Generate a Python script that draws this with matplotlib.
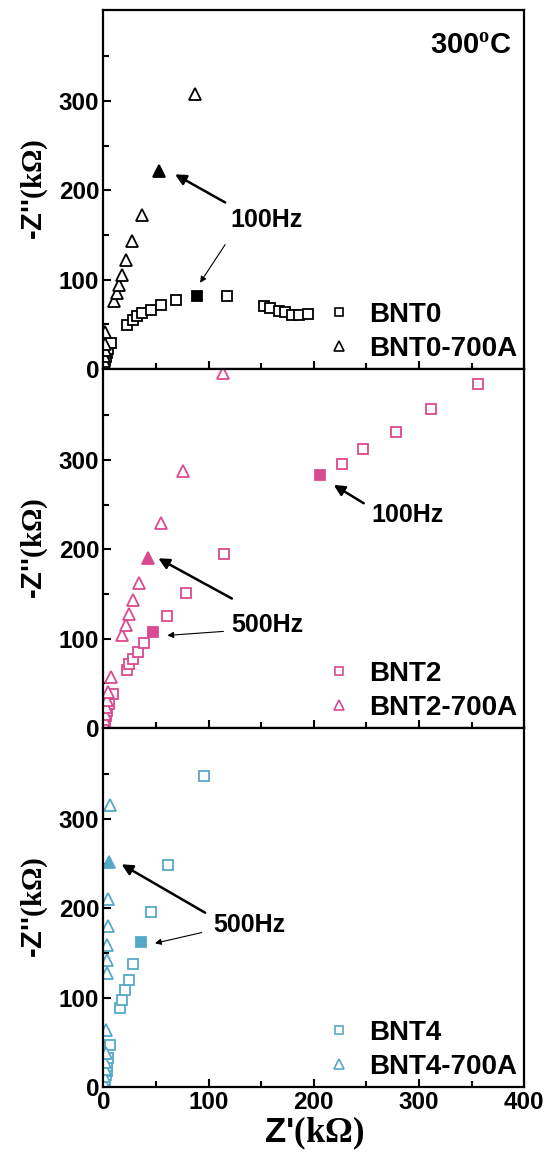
import numpy as np
import matplotlib.pyplot as plt
from matplotlib.lines import Line2D

plt.rcParams['font.family'] = ['Liberation Sans', 'DejaVu Sans']
plt.rcParams['font.weight'] = 'bold'
plt.rcParams['mathtext.fontset'] = 'custom'
plt.rcParams['mathtext.bf'] = 'Liberation Serif:bold'
plt.rcParams['mathtext.rm'] = 'Liberation Serif:bold'

# ---- data (Z' and -Z'' in kOhm) ----
# BNT0 / BNT0-700A
bnt0_x = [0.5, 1.0, 1.5, 2.0, 3.0, 4.0, 7.3, 22.7, 27.8, 32.2, 37.0, 45.0, 54.8, 69.0,
          117.3, 152.2, 158.6, 166.5, 172.9, 179.2, 185.5, 194.8]
bnt0_y = [2, 6, 10, 14, 18, 22, 28.9, 49.4, 55.0, 58.8, 62.6, 66.3, 71.9, 77.5,
          82.0, 70.0, 68.2, 65.5, 63.3, 60.7, 60.7, 61.8]
bnt0_hz = (88.8, 82.0)
bnt0a_x = [0.3, 0.6, 0.9, 1.2, 1.5, 1.4, 10.3, 12.6, 15.0, 17.3, 21.4, 26.9, 36.4, 87.1]
bnt0a_y = [4, 9, 15, 21, 28, 42.0, 75.6, 85.0, 94.4, 105.6, 121.7, 143.0, 173.0, 307.9]
bnt0a_hz = (53.1, 221.7)

# BNT2 / BNT2-700A
bnt2_x = [0.8, 1.5, 2.5, 3.5, 5.0, 9.3, 22.1, 24.6, 27.8, 32.6, 38.9, 60.2, 78.6, 115.0,
          227.0, 246.8, 278.0, 311.0, 355.9]
bnt2_y = [3, 8, 13, 19, 27, 38.2, 65.2, 71.9, 77.5, 85.0, 95.5, 125.5, 151.3, 194.4,
          296.0, 312.0, 331.5, 357.6, 385.0]
bnt2_hz1 = (47.4, 107.5)
bnt2_hz2 = (205.7, 283.5)
bnt2a_x = [0.5, 1.0, 1.5, 2.2, 3.0, 4.0, 6.9, 17.3, 21.1, 24.3, 27.8, 34.1, 54.8, 76.0, 114.1]
bnt2a_y = [4, 10, 16, 23, 31, 40, 57.0, 104.5, 115.0, 128.0, 143.0, 162.6, 229.2, 288.0, 397.8]
bnt2a_hz = (42.7, 189.9)

# BNT4 / BNT4-700A
bnt4_x = [0.8, 1.5, 2.3, 3.0, 3.8, 4.6, 6.2, 15.7, 17.9, 20.5, 24.3, 28.4, 45.2, 61.1, 96.0]
bnt4_y = [3, 8, 13, 18, 24, 32.2, 47.2, 88.4, 97.8, 108.2, 120.2, 137.9, 195.8, 248.3, 348.0]
bnt4_hz = (35.7, 162.1)
bnt4a_x = [0.5, 1.0, 1.4, 1.8, 2.2, 2.4, 3.0, 3.0, 3.6, 4.6, 4.6, 6.2]
bnt4a_y = [5, 12, 20, 28, 38, 64.0, 127.8, 142.7, 159.6, 180.1, 211.0, 315.7]
bnt4a_hz = (5.2, 252.0)

pink = '#DA4A8F'
blue = '#56A9C6'

panels = [
    dict(color='black', sq=(bnt0_x, bnt0_y), sq_hz=[bnt0_hz], tri=(bnt0a_x, bnt0a_y),
         tri_hz=bnt0a_hz, labels=['BNT0', 'BNT0-700A']),
    dict(color=pink, sq=(bnt2_x, bnt2_y), sq_hz=[bnt2_hz1, bnt2_hz2], tri=(bnt2a_x, bnt2a_y),
         tri_hz=bnt2a_hz, labels=['BNT2', 'BNT2-700A']),
    dict(color=blue, sq=(bnt4_x, bnt4_y), sq_hz=[bnt4_hz], tri=(bnt4a_x, bnt4a_y),
         tri_hz=bnt4a_hz, labels=['BNT4', 'BNT4-700A']),
]

# annotations: (text, text position, [(tail, head, thick)])
notes = [
    [('100Hz', (155.4, 166.5), [((115.7, 186.5), (68.1, 218.0), True),
                                ((115.7, 139.3), (91.9, 96.6), False)])],
    [('500Hz', (156.2, 115.7), [((122.1, 145.0), (52.2, 190.0), True),
                                ((114.1, 108.2), (60.8, 103.7), False)]),
     ('100Hz', (288.8, 238.5), [((247.4, 251.7), (218.9, 272.2), True)])],
    [('500Hz', (138.8, 181.1), [((96.7, 195.2), (17.3, 249.4), True),
                                ((93.5, 173.0), (49.0, 161.0), False)])],
]

fig = plt.figure(figsize=(5.53, 11.62), dpi=100)
gs = fig.add_gridspec(3, 1, left=0.187, right=0.948, bottom=0.0645, top=0.9914, hspace=0)
axes = [fig.add_subplot(gs[i]) for i in range(3)]

for i, (ax, p) in enumerate(zip(axes, panels)):
    c = p['color']
    ax.plot(p['sq'][0], p['sq'][1], 's', ms=7.5, mfc='white', mec=c, mew=1.3, ls='none')
    ax.plot(p['tri'][0], p['tri'][1], '^', ms=9, mfc='white', mec=c, mew=1.3, ls='none')
    for hx, hy in p['sq_hz']:
        ax.plot([hx], [hy], 's', ms=7.5, mfc=c, mec=c, mew=1.3)
    ax.plot([p['tri_hz'][0]], [p['tri_hz'][1]], '^', ms=9, mfc=c, mec=c, mew=1.3)

    for txt, pos, arrows in notes[i]:
        ax.text(pos[0], pos[1], txt, fontsize=18, fontweight='bold', ha='center', va='center')
        for tail, head, thick in arrows:
            if thick:
                ap = dict(arrowstyle='-|>', lw=1.8, color='black', mutation_scale=16,
                          shrinkA=0, shrinkB=0)
            else:
                ap = dict(arrowstyle='-|>', lw=0.8, color='black', mutation_scale=9,
                          shrinkA=0, shrinkB=0)
            ax.annotate('', xy=head, xytext=tail, arrowprops=ap)

    handles = [Line2D([], [], marker='s', ls='none', ms=5.5, mfc='white', mec=c, mew=1.2),
               Line2D([], [], marker='^', ls='none', ms=7, mfc='white', mec=c, mew=1.2)]
    ax.legend(handles, p['labels'], loc='lower right', bbox_to_anchor=(1.004, -0.003),
              frameon=False, handlelength=1.0, handletextpad=0.6,
              labelspacing=0.28, borderaxespad=0.1, borderpad=0.2,
              prop=dict(weight='bold', size=20))

    ax.set_xlim(0, 400)
    ax.set_ylim(0, 402)
    ax.set_xticks([0, 100, 200, 300, 400])
    ax.set_xticks([50, 150, 250, 350], minor=True)
    ax.set_yticks([0, 100, 200, 300])
    ax.set_yticks([50, 150, 250, 350], minor=True)
    ax.tick_params(which='both', direction='in', top=False, right=False, width=1.5,
                   labelsize=17.5, pad=3)
    ax.tick_params(which='major', length=6)
    ax.tick_params(which='minor', length=4)
    for lab in ax.get_xticklabels() + ax.get_yticklabels():
        lab.set_fontweight('bold')
    for s in ax.spines.values():
        s.set_linewidth(1.6)
    ax.set_ylabel(r"-Z''$\mathbf{(k\Omega)}$", fontsize=21, fontweight='bold', labelpad=6)
    if i < 2:
        ax.tick_params(labelbottom=False)

axes[0].text(0.97, 0.94, r'300$^\mathbf{o}$C', transform=axes[0].transAxes, fontsize=21,
             fontweight='bold', ha='right', va='top')
axes[2].set_xlabel(r"Z'$\mathbf{(k\Omega)}$", fontsize=25, fontweight='bold', labelpad=0)

fig.savefig('out.png', dpi=100)
